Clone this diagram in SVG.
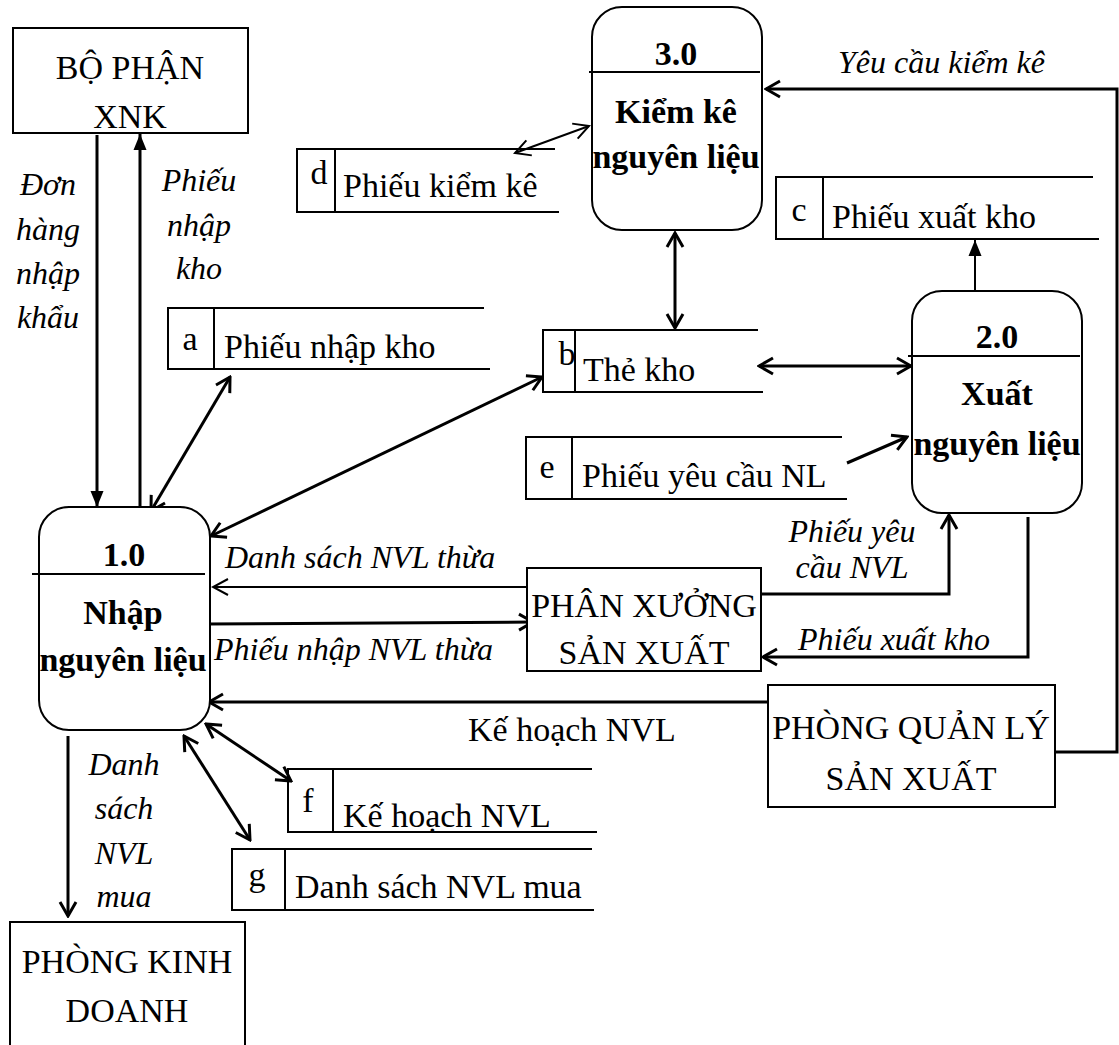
<svg xmlns="http://www.w3.org/2000/svg" width="1119" height="1045" viewBox="0 0 1119 1045">
<style>
text{font-family:"Liberation Serif","Times New Roman",serif;fill:#000}
.r{font-size:34px}
.i{font-size:32px;font-style:italic}
.b{font-size:34px;font-weight:bold}
.m{text-anchor:middle}
.box{fill:#fff;stroke:#000;stroke-width:2}
.proc{fill:#fff;stroke:#000;stroke-width:2}
.ds{fill:none;stroke:#000;stroke-width:2}
.c{fill:none;stroke:#000;stroke-width:3}
.t{fill:none;stroke:#000;stroke-width:2}
</style>
<defs>
<marker id="op" viewBox="0 0 20 20" refX="18" refY="10" markerWidth="20" markerHeight="20" markerUnits="userSpaceOnUse" orient="auto-start-reverse"><path d="M4,2 L18,10 L4,18" fill="none" stroke="#000" stroke-width="3"/></marker>
<marker id="opt" viewBox="0 0 20 20" refX="18" refY="10" markerWidth="20" markerHeight="20" markerUnits="userSpaceOnUse" orient="auto-start-reverse"><path d="M3,2 L18,10 L3,18" fill="none" stroke="#000" stroke-width="2"/></marker>
<marker id="fl" viewBox="0 0 20 20" refX="17" refY="10" markerWidth="20" markerHeight="20" markerUnits="userSpaceOnUse" orient="auto"><path d="M1,3.5 L17,10 L1,16.5 z" fill="#000"/></marker>
</defs>
<rect width="1119" height="1045" fill="#fff"/>

<g id="connectors">
<line class="c" x1="97" y1="135" x2="97" y2="507" marker-end="url(#fl)"/>
<line class="c" x1="140" y1="510" x2="140" y2="134" marker-end="url(#fl)"/>
<line class="c" x1="151" y1="511" x2="230" y2="377" marker-start="url(#op)" marker-end="url(#op)"/>
<line class="c" x1="211" y1="536" x2="542" y2="377" marker-start="url(#op)" marker-end="url(#op)"/>
<line class="t" x1="515" y1="153" x2="589" y2="126" marker-start="url(#opt)" marker-end="url(#opt)"/>
<line class="c" x1="675" y1="233" x2="675" y2="328" marker-start="url(#op)" marker-end="url(#op)"/>
<line class="c" x1="759" y1="366" x2="911" y2="366" marker-start="url(#op)" marker-end="url(#op)"/>
<line class="c" x1="847" y1="463" x2="907" y2="437" marker-end="url(#op)"/>
<line class="t" x1="975" y1="291" x2="975" y2="240" marker-end="url(#fl)"/>
<polyline class="c" points="1055,752 1117,752 1117,89 766,89" marker-end="url(#op)"/>
<line class="t" x1="531" y1="587" x2="213" y2="587" marker-end="url(#opt)"/>
<line class="c" x1="206" y1="624" x2="533" y2="622" marker-end="url(#op)"/>
<polyline class="c" points="761,594 949,594 949,515" marker-end="url(#op)"/>
<polyline class="c" points="1028,517 1028,657 763,657" marker-end="url(#op)"/>
<line class="c" x1="773" y1="702" x2="209" y2="702" marker-end="url(#op)"/>
<line class="c" x1="206" y1="724" x2="291" y2="781" marker-start="url(#op)" marker-end="url(#op)"/>
<line class="c" x1="184" y1="736" x2="250" y2="840" marker-start="url(#op)" marker-end="url(#op)"/>
<line class="c" x1="68" y1="736" x2="68" y2="916" marker-end="url(#op)"/>
</g>

<g id="labels">
<text class="i m" x="48" y="195">Đơn</text>
<text class="i m" x="48" y="240">hàng</text>
<text class="i m" x="48" y="284">nhập</text>
<text class="i m" x="48" y="328">khẩu</text>
<text class="i m" x="199" y="191">Phiếu</text>
<text class="i m" x="199" y="236">nhập</text>
<text class="i m" x="199" y="279">kho</text>
<text class="i" x="838" y="73">Yêu cầu kiểm kê</text>
<text class="i" x="225" y="568">Danh sách NVL thừa</text>
<text class="i" x="214" y="660">Phiếu nhập NVL thừa</text>
<text class="i m" x="852" y="542">Phiếu yêu</text>
<text class="i m" x="852" y="578">cầu NVL</text>
<text class="i" x="798" y="650">Phiếu xuất kho</text>
<text class="r" x="468" y="741">Kế hoạch NVL</text>
<text class="i m" x="124" y="775">Danh</text>
<text class="i m" x="124" y="819">sách</text>
<text class="i m" x="124" y="864">NVL</text>
<text class="i m" x="124" y="907">mua</text>
</g>

<g id="bo-phan-xnk">
<rect class="box" x="13" y="28" width="235" height="105"/>
<text class="r m" x="130" y="79">BỘ PHẬN</text>
<text class="r m" x="130" y="128">XNK</text>
</g>

<g id="phan-xuong">
<rect class="box" x="527" y="568" width="234" height="103"/>
<text class="r m" x="644" y="617">PHÂN XƯỞNG</text>
<text class="r m" x="644" y="664">SẢN XUẤT</text>
</g>

<g id="phong-quan-ly">
<rect class="box" x="768" y="685" width="287" height="122"/>
<text class="r m" x="911" y="739">PHÒNG QUẢN LÝ</text>
<text class="r m" x="911" y="790">SẢN XUẤT</text>
</g>

<g id="phong-kinh-doanh">
<rect class="box" x="10" y="922" width="235" height="140"/>
<text class="r m" x="127" y="973">PHÒNG KINH</text>
<text class="r m" x="127" y="1022">DOANH</text>
</g>

<g id="p1">
<rect class="proc" x="39" y="507" width="171" height="223" rx="30" ry="30"/>
<line class="t" x1="32" y1="574" x2="205" y2="574"/>
<text class="b m" x="124" y="566">1.0</text>
<text class="b m" x="123" y="624">Nhập</text>
<text class="b m" x="123" y="671">nguyên liệu</text>
</g>

<g id="p2">
<rect class="proc" x="912" y="291" width="170" height="222" rx="30" ry="30"/>
<line class="t" x1="908" y1="356" x2="1080" y2="356"/>
<text class="b m" x="997" y="348">2.0</text>
<text class="b m" x="997" y="405">Xuất</text>
<text class="b m" x="997" y="455">nguyên liệu</text>
</g>

<g id="p3">
<rect class="proc" x="592" y="7" width="170" height="223" rx="30" ry="30"/>
<line class="t" x1="589" y1="72" x2="760" y2="72"/>
<text class="b m" x="676" y="65">3.0</text>
<text class="b m" x="676" y="123">Kiểm kê</text>
<text class="b m" x="676" y="168">nguyên liệu</text>
</g>

<g id="ds-a">
<path class="ds" d="M484,308 H168 V369 H490 M214,308 V369"/>
<text class="r m" x="190" y="350">a</text>
<text class="r" x="224" y="358">Phiếu nhập kho</text>
</g>
<g id="ds-b">
<path class="ds" d="M758,330 H543 V392 H763 M575,330 V392"/>
<text class="r m" x="567" y="365">b</text>
<text class="r" x="583" y="381">Thẻ kho</text>
</g>
<g id="ds-c">
<path class="ds" d="M1093,177 H776 V239 H1099 M823,177 V239"/>
<text class="r m" x="799" y="221">c</text>
<text class="r" x="832" y="228">Phiếu xuất kho</text>
</g>
<g id="ds-d">
<path class="ds" d="M555,149 H297 V212 H559 M335,149 V212"/>
<text class="r m" x="319" y="184">d</text>
<text class="r" x="343" y="197">Phiếu kiểm kê</text>
</g>
<g id="ds-e">
<path class="ds" d="M842,437 H526 V499 H847 M572,437 V499"/>
<text class="r m" x="547" y="478">e</text>
<text class="r" x="582" y="487">Phiếu yêu cầu NL</text>
</g>
<g id="ds-f">
<path class="ds" d="M592,769 H288 V832 H597 M333,769 V832"/>
<text class="r m" x="308" y="812">f</text>
<text class="r" x="343" y="827">Kế hoạch NVL</text>
</g>
<g id="ds-g">
<path class="ds" d="M592,849 H232 V910 H594 M285,849 V910"/>
<text class="r m" x="257" y="886">g</text>
<text class="r" x="295" y="898">Danh sách NVL mua</text>
</g>
</svg>
